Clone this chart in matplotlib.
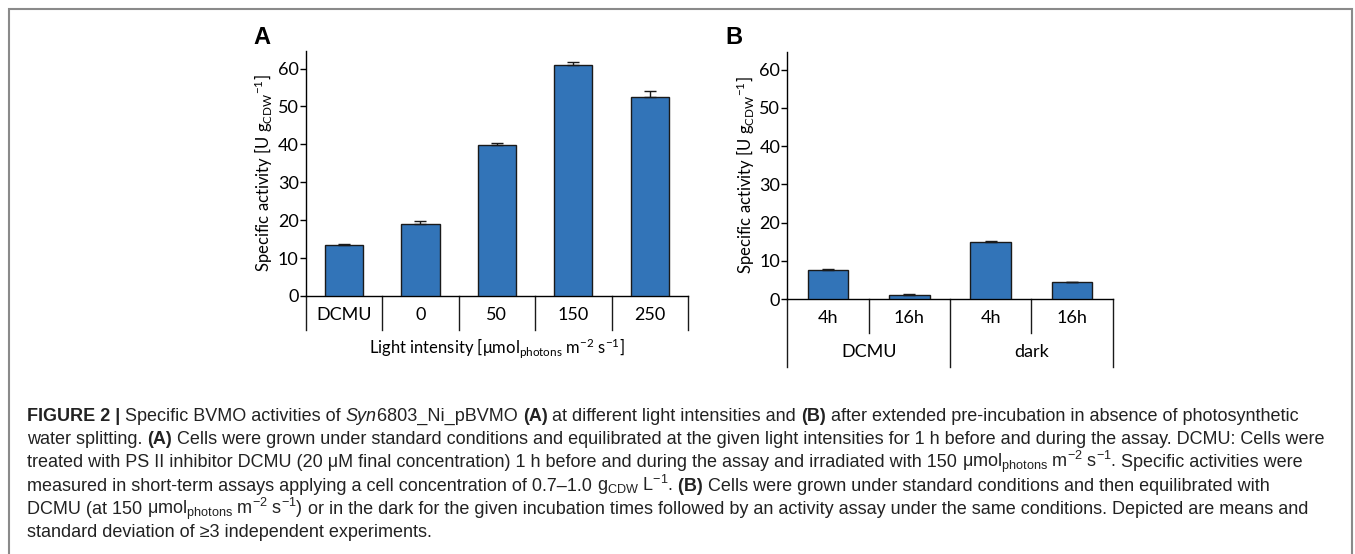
import matplotlib
matplotlib.use('Agg')
import matplotlib.pyplot as plt
import matplotlib.transforms as mtransforms
from matplotlib.patches import Rectangle

# panel A: light intensity
cats_a = ['DCMU', '0', '50', '150', '250']
vals_a = [13.5, 19.0, 39.8, 60.8, 52.4]
errs_a = [0.3, 0.9, 0.6, 1.0, 1.7]

# panel B: pre-incubation
cats_b = ['4h', '16h', '4h', '16h']
groups_b = ['DCMU', 'dark']
vals_b = [7.7, 1.05, 15.0, 4.4]
errs_b = [0.15, 0.2, 0.3, 0.1]

W, H = 1355, 554
BAR = '#3274b8'
AXF = ['Lato', 'DejaVu Sans']
CAPF = ['Liberation Sans', 'DejaVu Sans']

fig = plt.figure(figsize=(W / 100, H / 100), dpi=100)
fig.patches.append(Rectangle((9 / W, -0.1), (1352 - 9) / W, 1.1 - 9 / H,
                             transform=fig.transFigure, fill=False,
                             edgecolor='#8a8a8a', linewidth=1.5))

ylab = r'Specific activity [U $\mathregular{g_{CDW}{}^{-1}}$]'


def style_axis(ax, n):
    ax.set_xlim(-0.5, n - 0.5)
    ax.set_ylim(0, 64.7)
    ax.spines['top'].set_visible(False)
    ax.spines['right'].set_visible(False)
    ax.spines['left'].set_linewidth(1.0)
    ax.spines['bottom'].set_linewidth(1.0)
    ax.set_xticks([])
    ax.set_yticks(range(0, 61, 10))
    ax.tick_params(axis='y', length=4, width=1.0, pad=1, labelsize=13)
    for lb in ax.get_yticklabels():
        lb.set_family(AXF)
    ax.set_ylabel(ylab, family=AXF, fontsize=12, labelpad=2)


# ---- panel A
axA = fig.add_axes([305.7 / W, 1 - 296 / H, (688 - 305.7) / W, (296 - 50.7) / H])
xa = range(len(cats_a))
axA.bar(xa, vals_a, width=0.5, color=BAR, edgecolor='#1a1a1a', linewidth=1.0, zorder=3)
axA.errorbar(xa, vals_a, yerr=[[0] * len(errs_a), errs_a], fmt='none',
             ecolor='#1a1a1a', elinewidth=1.0, capsize=4, capthick=1.0, zorder=4)
style_axis(axA, len(cats_a))
trA = mtransforms.blended_transform_factory(axA.transData, axA.transAxes)
for i in range(len(cats_a) + 1):
    axA.plot([i - 0.5, i - 0.5], [0, -0.139], color='#1a1a1a', lw=1.0,
             transform=trA, clip_on=False)
for i, c in enumerate(cats_a):
    axA.text(i, -0.077, c, transform=trA, ha='center', va='center',
             family=AXF, fontsize=13)
axA.text(0.5, -0.212, r'Light intensity [μmol$\mathregular{_{photons}}$ m$\mathregular{^{-2}}$ s$\mathregular{^{-1}}$]',
         transform=axA.transAxes, ha='center', va='center', family=AXF, fontsize=12)
fig.text(262 / W, 1 - 38 / H, 'A', ha='center', va='center',
         fontsize=17, fontweight='bold', family=CAPF)

# ---- panel B
axB = fig.add_axes([787.3 / W, 1 - 299 / H, (1112.7 - 787.3) / W, (299 - 51.7) / H])
xb = range(len(cats_b))
axB.bar(xb, vals_b, width=0.5, color=BAR, edgecolor='#1a1a1a', linewidth=1.0, zorder=3)
axB.errorbar(xb, vals_b, yerr=[[0] * len(errs_b), errs_b], fmt='none',
             ecolor='#1a1a1a', elinewidth=1.0, capsize=4, capthick=1.0, zorder=4)
style_axis(axB, len(cats_b))
trB = mtransforms.blended_transform_factory(axB.transData, axB.transAxes)
for i in range(len(cats_b) + 1):
    low = -0.274 if i % 2 == 0 else -0.137
    axB.plot([i - 0.5, i - 0.5], [0, low], color='#1a1a1a', lw=1.0,
             transform=trB, clip_on=False)
for i, c in enumerate(cats_b):
    axB.text(i, -0.077, c, transform=trB, ha='center', va='center',
             family=AXF, fontsize=13)
for g, name in enumerate(groups_b):
    axB.text(2 * g + 0.5, -0.214, name, transform=trB, ha='center', va='center',
             family=AXF, fontsize=13)
fig.text(734 / W, 1 - 38 / H, 'B', ha='center', va='center',
         fontsize=17, fontweight='bold', family=CAPF)

# ---- caption (runs of text, laid out left to right)
R = {}
B = {'fontweight': 'bold'}
I = {'style': 'italic'}
units = r'μmol$\mathregular{_{photons}}$ m$\mathregular{^{−2}}$ s$\mathregular{^{−1}}$'
caption = [
    [('FIGURE 2 |', B), (' Specific BVMO activities of ', R), ('Syn', I),
     ('6803_Ni_pBVMO ', R), ('(A)', B), (' at different light intensities and ', R),
     ('(B)', B), (' after extended pre-incubation in absence of photosynthetic', R)],
    [('water splitting. ', R), ('(A)', B),
     (' Cells were grown under standard conditions and equilibrated at the given light '
      'intensities for 1 h before and during the assay. DCMU: Cells were', R)],
    [('treated with PS II inhibitor DCMU (20 μM final concentration) 1 h before and during '
      'the assay and irradiated with 150 ', R),
     (units + '.', R), (' Specific activities were', R)],
    [('measured in short-term assays applying a cell concentration of 0.7–1.0 ', R),
     (r'g$\mathregular{_{CDW}}$ L$\mathregular{^{−1}}$.', R), (' (B)', B),
     (' Cells were grown under standard conditions and then equilibrated with', R)],
    [('DCMU (at 150 ', R), (units + ')', R),
     (' or in the dark for the given incubation times followed by an activity assay under '
      'the same conditions. Depicted are means and', R)],
    [('standard deviation of ≥3 independent experiments.', R)],
]

renderer = fig.canvas.get_renderer()
for k, runs in enumerate(caption):
    x = 27
    y = 421 + 23.2 * k
    for s, kw in runs:
        t = fig.text(x / W, 1 - y / H, s, ha='left', va='baseline',
                     family=CAPF, fontsize=13, color='#222222', **kw)
        x += t.get_window_extent(renderer).width

fig.savefig('out.png', dpi=100)
